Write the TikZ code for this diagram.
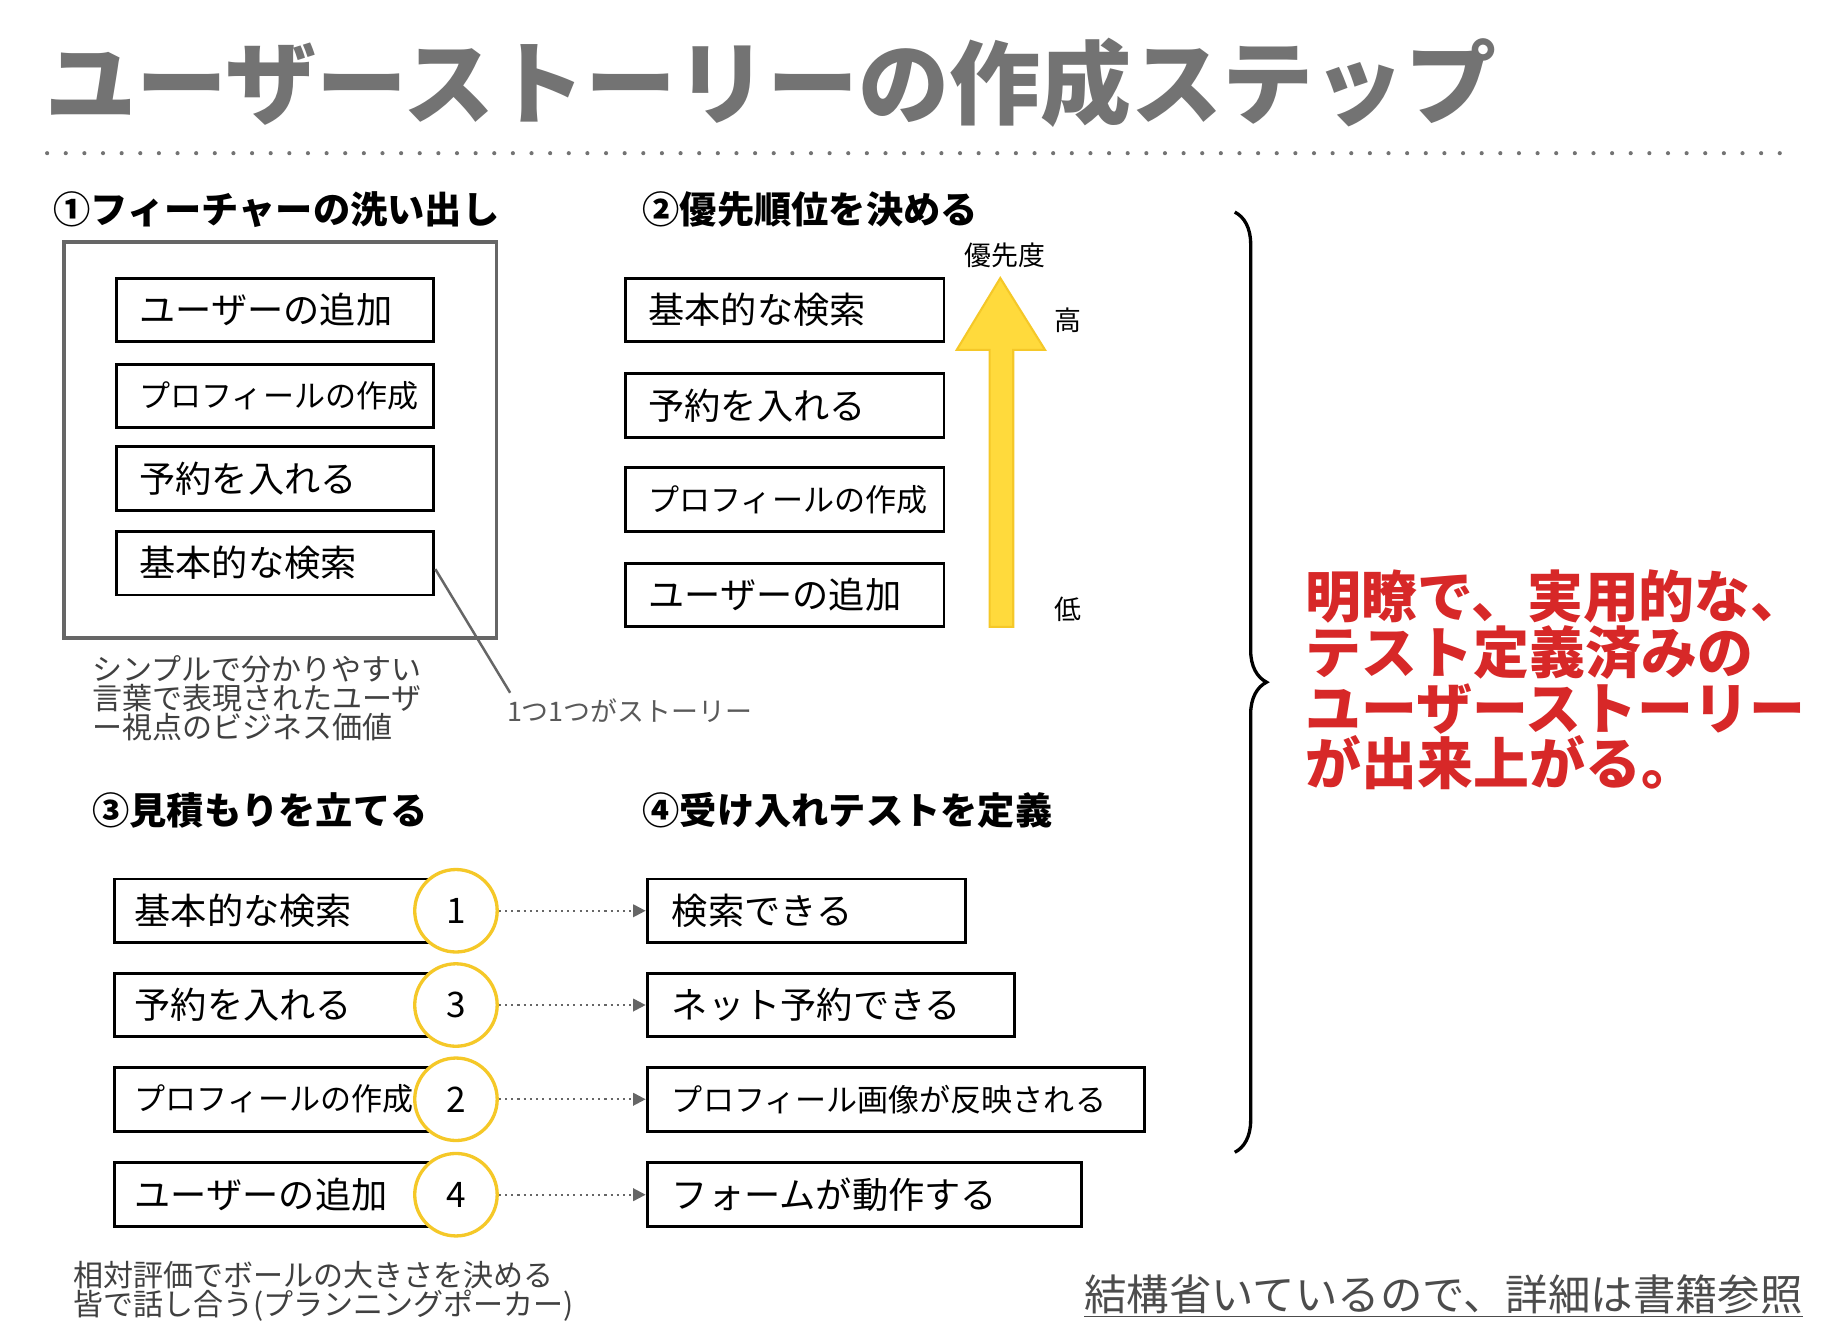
\documentclass[tikz,border=0pt]{standalone}
\usepackage{fontspec}
\setmainfont{Noto Sans CJK JP}
\usetikzlibrary{decorations.pathreplacing,arrows.meta}
\definecolor{ttl}{RGB}{115,115,115}
\definecolor{redt}{RGB}{215,40,40}
\definecolor{ylw}{RGB}{255,218,60}
\definecolor{ylwd}{RGB}{245,200,40}
\tikzset{
 box/.style={draw,line width=1.4pt,minimum height=54*0.02cm,inner sep=0pt},
 lbl/.style={anchor=west,inner sep=0pt,font=\fontsize{17}{20}\selectfont},
 head/.style={anchor=west,inner sep=0pt,font=\bfseries\fontsize{18}{20}\selectfont},
 circ/.style={circle,draw=ylwd,line width=1.6pt,fill=white,minimum size=70*0.02cm,inner sep=0pt,font=\fontsize{17}{20}\selectfont},
 darr/.style={dotted,line width=1pt,draw=black!60,-{Triangle[length=6pt,width=6pt]}},
}
\begin{document}
\begin{tikzpicture}[x=0.02cm,y=-0.02cm]
\useasboundingbox[fill=white] (0,0) rectangle (1560,1140);
\node[anchor=west,inner sep=0pt,text=ttl,font=\bfseries\fontsize{44}{48}\selectfont] (title) at (38,70) {ユーザーストーリーの作成ステップ};
\coordinate (d1) at (40,130); \coordinate (d2) at (1515,130);
\draw[ttl,line width=2pt,dash pattern=on 0pt off 9pt,line cap=round] (d1) -- (d2);
% section 1
\node[head] (h1) at (45,178) {①フィーチャーの洗い出し};
\node[draw=black!60,line width=1.6pt,minimum width=367*0.02cm,minimum height=336*0.02cm,anchor=north west,inner sep=0pt] (outer) at (53,204) {};
\foreach \y/\t/\n/\f in {263/ユーザーの追加/a1/17.5,336/プロフィールの作成/a2/15,406/予約を入れる/a3/17.5,478/基本的な検索/a4/17.5}{
 \node[box,minimum width=269*0.02cm,anchor=west] (\n) at (98,\y) {};
 \node[lbl,font=\fontsize{\f}{20}\selectfont] at (118,\y) {\t};
}
\coordinate (lk) at (433,588);
\draw[black!60,line width=1.2pt] (a4.east) ++(0,5) -- (lk);
\node[anchor=west,inner sep=0pt,text=black!65,font=\fontsize{13}{14}\selectfont] (one) at (430,603) {1つ1つがストーリー};
\node[anchor=north west,inner sep=0pt,align=left,text=black!75,font=\fontsize{14.5}{14}\selectfont] (desc) at (78,556) {シンプルで分かりやすい\\言葉で表現されたユーザ\\ー視点のビジネス価値};
% section 2
\node[head] (h2) at (545,178) {②優先順位を決める};
\foreach \y/\t/\n/\f in {263/基本的な検索/b1/17.5,344/予約を入れる/b2/17.5,424/プロフィールの作成/b3/15,505/ユーザーの追加/b4/17.5}{
 \node[box,minimum width=270*0.02cm,anchor=west] (\n) at (530,\y) {};
 \node[lbl,font=\fontsize{\f}{20}\selectfont] at (550,\y) {\t};
}
\draw[fill=ylw,draw=ylwd,line width=1pt] (840,532) -- (840,297) -- (812,297) -- (849,236) -- (887,297) -- (860,297) -- (860,532) -- cycle;
\node[font=\fontsize{13}{14}\selectfont] (pr) at (853,217) {優先度};
\node[font=\fontsize{13}{14}\selectfont] (hi) at (906,272) {高};
\node[font=\fontsize{13}{14}\selectfont] (lo) at (906,517) {低};
% brace
\coordinate (br1) at (1048,180); \coordinate (br2) at (1048,978);
\draw[line width=1.6pt,decorate,decoration={brace,amplitude=27*0.02cm}] (br1) -- (br2);
\node[anchor=north west,inner sep=0pt,align=left,text=redt,font=\bfseries\fontsize{27}{27}\selectfont] (res) at (1108,483) {明瞭で、実用的な、\\テスト定義済みの\\ユーザーストーリー\\が出来上がる。};
% section 3,4
\node[head] (h3) at (78,688) {③見積もりを立てる};
\node[head] (h4) at (545,688) {④受け入れテストを定義};
\foreach \y/\t/\n/\f/\num/\rt/\rw in {773/基本的な検索/c1/17.5/1/検索できる/270,853/予約を入れる/c2/17.5/3/ネット予約できる/312,933/プロフィールの作成/c3/15/2/プロフィール画像が反映される/422,1014/ユーザーの追加/c4/17.5/4/フォームが動作する/369}{
 \node[box,minimum width=274*0.02cm,anchor=west] (\n) at (96,\y) {};
 \node[lbl,font=\fontsize{\f}{20}\selectfont] at (114,\y) {\t};
 \node[circ] (k\n) at (387,\y) {\num};
 \node[box,minimum width=\rw*0.02cm,anchor=west] (r\n) at (548,\y) {};
 \node[lbl,font=\fontsize{\f}{20}\selectfont] at (570,\y) {\rt};
 \draw[darr] (k\n) -- (r\n);
}
\node[anchor=north west,inner sep=0pt,align=left,text=black!75,font=\fontsize{14.5}{14}\selectfont] (note) at (62,1070) {相対評価でボールの大きさを決める\\皆で話し合う(プランニングポーカー)};
\node[anchor=west,inner sep=0pt,text=black!70,font=\fontsize{20.5}{22}\selectfont] (ref) at (920,1100) {\underline{結構省いているので、詳細は書籍参照}};
\end{tikzpicture}
\end{document}
